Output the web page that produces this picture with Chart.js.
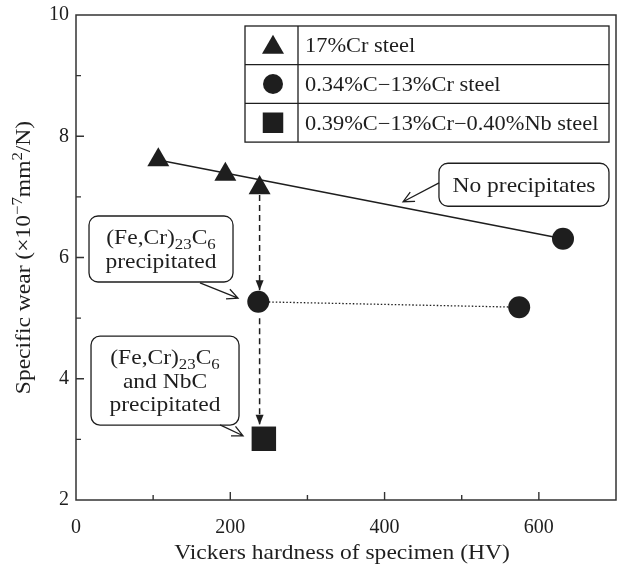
<!DOCTYPE html>
<html>
<head>
<meta charset="utf-8">
<script src="https://cdn.jsdelivr.net/npm/chart.js@4.4.0/dist/chart.umd.min.js"></script>
<style>
  html, body { margin: 0; padding: 0; background: #fff; }
  #wrap { width: 617px; height: 564px; }
</style>
</head>
<body>
<div id="wrap"><canvas id="chart" width="617" height="564"></canvas></div>
<script>
// Measured points: Vickers hardness (HV) vs specific wear (x10^-7 mm2/N)
const cr17Hardness = [106.7, 193.6, 238];
const cr17Wear = [7.61, 7.37, 7.15];
const c034Hardness = [631.3, 236.3, 574.5];
const c034Wear = [6.31, 5.27, 5.18];
const nbHardness = [243.5];
const nbWear = [3.01];

const seriesLabels = ['17%Cr steel', '0.34%C−13%Cr steel', '0.39%C−13%Cr−0.40%Nb steel'];

// Guide lines
const trendHardness = [106.7, 631.3];
const trendWear = [7.61, 6.31];
const dottedHardness = [236.3, 574.5];
const dottedWear = [5.27, 5.18];
const arrowHardness = [[238, 238], [238, 238]];
const arrowWear = [[7.03, 5.46], [5.0, 3.24]];

// Axis ticks
const xTicks = [0, 200, 400, 600];
const yTicks = [2, 4, 6, 8, 10];

// Callout boxes (text, box centre and arrow in data units)
const callouts = [
  { lines: ['No precipitates'], at: [580.7, 7.2], w: 170, h: 43, tail: [470.6, 7.23], tip: [424, 6.92] },
  { lines: ['(Fe,Cr)_{23}C_{6}', 'precipitated'], at: [110.2, 6.14], w: 144, h: 66, tail: [160.7, 5.58], tip: [210, 5.33] },
  { lines: ['(Fe,Cr)_{23}C_{6}', 'and NbC', 'precipitated'], at: [115.4, 3.97], w: 148, h: 89, tail: [186.7, 3.24], tip: [216.5, 3.06] }
];

const FONT = '"Liberation Serif", "DejaVu Serif", serif';
const INK = '#1e1e1e';
const STRETCH = 1.12; // the original face is wider than Liberation Serif

function toPoints(xs, ys) {
  return xs.map((x, i) => ({ x: x, y: ys[i] }));
}

function parseRich(str) {
  const out = [];
  const re = /([_^])\{([^}]*)\}/g;
  let last = 0, m;
  while ((m = re.exec(str))) {
    if (m.index > last) out.push({ t: str.slice(last, m.index), s: 0 });
    out.push({ t: m[2], s: m[1] === '_' ? 1 : -1 });
    last = re.lastIndex;
  }
  if (last < str.length) out.push({ t: str.slice(last), s: 0 });
  return out;
}

// draws text with sub/superscripts, y is the baseline
function drawRich(ctx, str, x, y, size, align) {
  const segs = parseRich(str);
  const fontFor = s => (s ? Math.round(size * 0.7) : size) + 'px ' + FONT;
  let total = 0;
  segs.forEach(g => { ctx.font = fontFor(g.s); g.w = ctx.measureText(g.t).width; total += g.w; });
  ctx.save();
  ctx.translate(x, y);
  ctx.scale(STRETCH, 1);
  let cx = align === 'left' ? 0 : -total / 2;
  ctx.textAlign = 'left';
  ctx.textBaseline = 'alphabetic';
  segs.forEach(g => {
    ctx.font = fontFor(g.s);
    const dy = g.s === 1 ? size * 0.22 : g.s === -1 ? -size * 0.4 : 0;
    ctx.fillText(g.t, cx, dy);
    cx += g.w;
  });
  ctx.restore();
}

function roundBox(ctx, x, y, w, h, r) {
  ctx.beginPath();
  ctx.moveTo(x + r, y);
  ctx.arcTo(x + w, y, x + w, y + h, r);
  ctx.arcTo(x + w, y + h, x, y + h, r);
  ctx.arcTo(x, y + h, x, y, r);
  ctx.arcTo(x, y, x + w, y, r);
  ctx.closePath();
}

function drawMarker(ctx, ds, x, y, radius) {
  const opts = { pointStyle: ds.pointStyle, radius: radius, rotation: 0, borderWidth: 0 };
  ctx.fillStyle = ds.backgroundColor;
  if (Chart.helpers && Chart.helpers.drawPoint) {
    Chart.helpers.drawPoint(ctx, opts, x, y);
  } else {
    ctx.beginPath();
    ctx.arc(x, y, radius, 0, Math.PI * 2);
    ctx.fill();
  }
}

const decorPlugin = {
  id: 'decor',
  beforeDatasetsDraw(chart) {
    const ctx = chart.ctx;
    const a = chart.chartArea;
    const xs = chart.scales.x, ys = chart.scales.y;
    ctx.save();
    ctx.strokeStyle = '#333';
    ctx.lineWidth = 1.5;
    ctx.strokeRect(a.left, a.top, a.right - a.left, a.bottom - a.top);
    // inward ticks
    ctx.lineWidth = 1.4;
    ctx.beginPath();
    xs.ticks.forEach(t => {
      const px = xs.getPixelForValue(t.value);
      const len = xTicks.includes(t.value) ? 8 : 5;
      if (t.value <= xs.min || t.value >= xs.max) return;
      ctx.moveTo(px, a.bottom);
      ctx.lineTo(px, a.bottom - len);
    });
    ys.ticks.forEach(t => {
      const py = ys.getPixelForValue(t.value);
      const len = yTicks.includes(t.value) ? 8 : 5;
      if (t.value <= ys.min || t.value >= ys.max) return;
      ctx.moveTo(a.left, py);
      ctx.lineTo(a.left + len, py);
    });
    ctx.stroke();
    ctx.restore();
  },
  afterDatasetsDraw(chart) {
    const ctx = chart.ctx;
    const a = chart.chartArea;
    const xs = chart.scales.x, ys = chart.scales.y;
    ctx.save();
    ctx.fillStyle = INK;
    ctx.strokeStyle = INK;

    // filled heads on the dashed arrows
    arrowHardness.forEach((hx, i) => {
      const x1 = xs.getPixelForValue(hx[1]);
      const y1 = ys.getPixelForValue(arrowWear[i][1]);
      ctx.beginPath();
      ctx.moveTo(x1, y1);
      ctx.lineTo(x1 - 4, y1 - 10);
      ctx.lineTo(x1 + 4, y1 - 10);
      ctx.closePath();
      ctx.fill();
    });

    // callouts
    callouts.forEach(c => {
      const cx = xs.getPixelForValue(c.at[0]);
      const cy = ys.getPixelForValue(c.at[1]);
      ctx.lineWidth = 1.3;
      ctx.fillStyle = '#fff';
      roundBox(ctx, cx - c.w / 2, cy - c.h / 2, c.w, c.h, 9);
      ctx.fill();
      ctx.stroke();
      ctx.fillStyle = INK;
      const step = 23.5;
      const y0 = cy - (c.lines.length - 1) * step / 2;
      c.lines.forEach((ln, i) => drawRich(ctx, ln, cx, y0 + i * step + 7, 21, 'center'));
      const tx = xs.getPixelForValue(c.tail[0]), ty = ys.getPixelForValue(c.tail[1]);
      const hx = xs.getPixelForValue(c.tip[0]), hy = ys.getPixelForValue(c.tip[1]);
      const ang = Math.atan2(hy - ty, hx - tx);
      ctx.beginPath();
      ctx.moveTo(tx, ty);
      ctx.lineTo(hx, hy);
      ctx.moveTo(hx - 12 * Math.cos(ang - 0.45), hy - 12 * Math.sin(ang - 0.45));
      ctx.lineTo(hx, hy);
      ctx.lineTo(hx - 12 * Math.cos(ang + 0.45), hy - 12 * Math.sin(ang + 0.45));
      ctx.stroke();
    });

    // legend table
    const lx = a.left + 169, ly = a.top + 11, lw = 364, rowH = 38.7, colW = 53;
    ctx.lineWidth = 1.3;
    ctx.fillStyle = '#fff';
    ctx.fillRect(lx, ly, lw, rowH * 3);
    ctx.strokeRect(lx, ly, lw, rowH * 3);
    ctx.beginPath();
    ctx.moveTo(lx + colW, ly);
    ctx.lineTo(lx + colW, ly + rowH * 3);
    ctx.moveTo(lx, ly + rowH);
    ctx.lineTo(lx + lw, ly + rowH);
    ctx.moveTo(lx, ly + rowH * 2);
    ctx.lineTo(lx + lw, ly + rowH * 2);
    ctx.stroke();
    const legendRadius = [12.7, 10, 14.5];
    seriesLabels.forEach((label, i) => {
      const ds = chart.data.datasets[i];
      const my = ly + rowH * i + rowH / 2 + (i === 0 ? 2 : 0);
      drawMarker(ctx, ds, lx + 28, my, legendRadius[i]);
      ctx.fillStyle = INK;
      drawRich(ctx, label, lx + 60, ly + rowH * i + rowH / 2 + 7, 20, 'left');
    });

    // axis titles
    ctx.fillStyle = INK;
    drawRich(ctx, 'Vickers hardness of specimen (HV)', 342, 559, 21, 'center');
    ctx.translate(30, (a.top + a.bottom) / 2);
    ctx.rotate(-Math.PI / 2);
    drawRich(ctx, 'Specific wear (×10^{−7}mm^{2}/N)', 0, 0, 21, 'center');
    ctx.restore();
  }
};

const tickFont = { family: FONT, size: 20 };

const chart = new Chart(document.getElementById('chart'), {
  type: 'scatter',
  data: {
    datasets: [
      { label: seriesLabels[0], data: toPoints(cr17Hardness, cr17Wear), pointStyle: 'triangle',
        pointRadius: 12.7, backgroundColor: INK, borderWidth: 0, showLine: false },
      { label: seriesLabels[1], data: toPoints(c034Hardness, c034Wear), pointStyle: 'circle',
        pointRadius: 11, backgroundColor: INK, borderWidth: 0, showLine: false },
      { label: seriesLabels[2], data: toPoints(nbHardness, nbWear), pointStyle: 'rect',
        pointRadius: 17.3, backgroundColor: INK, borderWidth: 0, showLine: false },
      { data: toPoints(trendHardness, trendWear), showLine: true, pointRadius: 0,
        borderColor: INK, borderWidth: 1.5 },
      { data: toPoints(dottedHardness, dottedWear), showLine: true, pointRadius: 0,
        borderColor: INK, borderWidth: 1.3, borderDash: [1.5, 2] },
      { data: toPoints(arrowHardness[0], arrowWear[0]), showLine: true, pointRadius: 0,
        borderColor: INK, borderWidth: 1.5, borderDash: [6, 4] },
      { data: toPoints(arrowHardness[1], arrowWear[1]), showLine: true, pointRadius: 0,
        borderColor: INK, borderWidth: 1.5, borderDash: [6, 4] }
    ]
  },
  options: {
    responsive: false,
    animation: false,
    events: [],
    layout: { autoPadding: false, padding: { top: 15, right: 1, left: 0, bottom: 0 } },
    plugins: { legend: { display: false }, tooltip: { enabled: false } },
    scales: {
      x: {
        type: 'linear', min: 0, max: 700,
        grid: { display: false, drawTicks: false },
        border: { display: false },
        ticks: {
          stepSize: 100, padding: 16, color: INK, font: tickFont, maxRotation: 0, autoSkip: false,
          callback: v => xTicks.includes(v) ? String(v) : ''
        },
        afterFit: s => { s.height = 64; s.paddingLeft = 0; s.paddingRight = 0; }
      },
      y: {
        type: 'linear', min: 2, max: 10,
        grid: { display: false, drawTicks: false },
        border: { display: false },
        ticks: {
          stepSize: 1, padding: 7, color: INK, font: tickFont, autoSkip: false,
          callback: v => yTicks.includes(v) ? String(v) : ''
        },
        afterFit: s => { s.width = 76; s.paddingTop = 0; s.paddingBottom = 0; }
      }
    }
  },
  plugins: [decorPlugin]
});
</script>
</body>
</html>
